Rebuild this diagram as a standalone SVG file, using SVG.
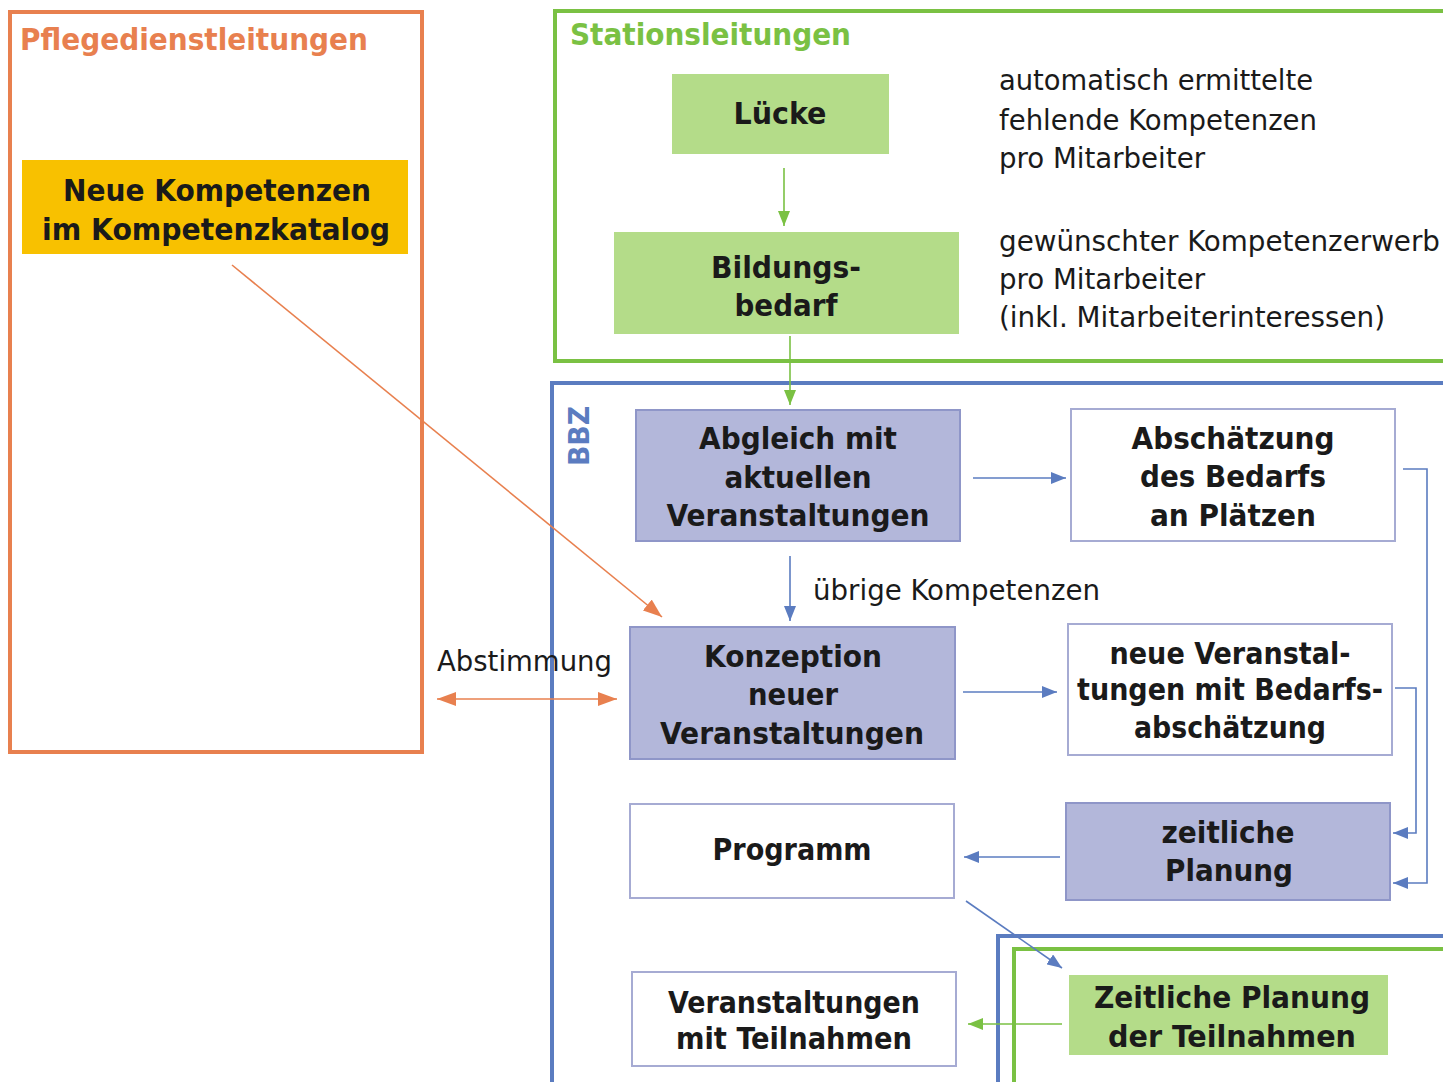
<svg xmlns="http://www.w3.org/2000/svg" width="1443" height="1082" viewBox="0 0 1443 1082">
<style>
text{font-family:"DejaVu Sans Condensed","DejaVu Sans",sans-serif;fill:#1a1a1a}
.b{font-weight:bold;font-size:31px;text-anchor:middle}
.n{font-size:28px}
.t{font-weight:bold;font-size:30px}
.green{fill:#b4dc89}
.lav{fill:#b3b7da;stroke:#8f96c8;stroke-width:2}
.wht{fill:#fff;stroke:#a6abd3;stroke-width:2}
.c{fill:none;stroke-width:1.6}
</style>
<defs>
<marker id="ag" markerUnits="userSpaceOnUse" markerWidth="16" markerHeight="12" refX="15" refY="6" orient="auto-start-reverse"><path d="M0,0 L15,6 L0,12 z" fill="#7ac143"/></marker>
<marker id="ab" markerUnits="userSpaceOnUse" markerWidth="16" markerHeight="12" refX="15" refY="6" orient="auto-start-reverse"><path d="M0,0 L15,6 L0,12 z" fill="#5b7cc0"/></marker>
<marker id="ao" markerUnits="userSpaceOnUse" markerWidth="20" markerHeight="14" refX="19" refY="7" orient="auto-start-reverse"><path d="M0,0 L19,7 L0,14 z" fill="#e8804f"/></marker>
</defs>
<rect width="1443" height="1082" fill="#fff"/>

<g id="pflegedienstleitungen">
<rect x="10" y="12" width="412" height="740" fill="none" stroke="#e8804f" stroke-width="4"/>
<text class="t" x="20" y="50" style="fill:#e8804f" textLength="348" lengthAdjust="spacingAndGlyphs">Pflegedienstleitungen</text>
</g>
<g id="stationsleitungen">
<rect x="555" y="11" width="900" height="350" fill="none" stroke="#7ac143" stroke-width="4"/>
<text class="t" x="570" y="45" style="fill:#7ac143" textLength="281" lengthAdjust="spacingAndGlyphs">Stationsleitungen</text>
</g>
<g id="bbz">
<rect x="552" y="383" width="900" height="710" fill="none" stroke="#5b7cc0" stroke-width="4"/>
<text class="t" transform="translate(589,466) rotate(-90)" style="fill:#5b7cc0;font-size:28px" textLength="60" lengthAdjust="spacingAndGlyphs">BBZ</text>
</g>
<g id="teilnahmen-frame">
<rect x="998" y="936" width="460" height="160" fill="none" stroke="#5b7cc0" stroke-width="4"/>
<rect x="1014" y="949" width="440" height="145" fill="none" stroke="#7ac143" stroke-width="4"/>
</g>

<g id="neue-kompetenzen">
<rect x="22" y="160" width="386" height="94" fill="#f8c100"/>
<text class="b" x="217" y="201" textLength="308" lengthAdjust="spacingAndGlyphs">Neue Kompetenzen</text>
<text class="b" x="216" y="240" textLength="348" lengthAdjust="spacingAndGlyphs">im Kompetenzkatalog</text>
</g>
<g id="luecke">
<rect class="green" x="672" y="74" width="217" height="80"/>
<text class="b" x="780" y="124" textLength="93" lengthAdjust="spacingAndGlyphs">Lücke</text>
</g>
<g id="bildungsbedarf">
<rect class="green" x="614" y="232" width="345" height="102"/>
<text class="b" x="786" y="278" textLength="150" lengthAdjust="spacingAndGlyphs">Bildungs-</text>
<text class="b" x="786" y="316" textLength="103" lengthAdjust="spacingAndGlyphs">bedarf</text>
</g>
<g id="note-luecke">
<text class="n" x="999" y="90" textLength="314" lengthAdjust="spacingAndGlyphs">automatisch ermittelte</text>
<text class="n" x="999" y="130" textLength="318" lengthAdjust="spacingAndGlyphs">fehlende Kompetenzen</text>
<text class="n" x="999" y="168" textLength="206" lengthAdjust="spacingAndGlyphs">pro Mitarbeiter</text>
</g>
<g id="note-bildungsbedarf">
<text class="n" x="999" y="251" textLength="441" lengthAdjust="spacingAndGlyphs">gewünschter Kompetenzerwerb</text>
<text class="n" x="999" y="289" textLength="206" lengthAdjust="spacingAndGlyphs">pro Mitarbeiter</text>
<text class="n" x="999" y="327" textLength="386" lengthAdjust="spacingAndGlyphs">(inkl. Mitarbeiterinteressen)</text>
</g>
<g id="abgleich">
<rect class="lav" x="636" y="410" width="324" height="131"/>
<text class="b" x="798" y="449" textLength="198" lengthAdjust="spacingAndGlyphs">Abgleich mit</text>
<text class="b" x="798" y="488" textLength="147" lengthAdjust="spacingAndGlyphs">aktuellen</text>
<text class="b" x="798" y="526" textLength="263" lengthAdjust="spacingAndGlyphs">Veranstaltungen</text>
</g>
<g id="abschaetzung">
<rect class="wht" x="1071" y="409" width="324" height="132"/>
<text class="b" x="1233" y="449" textLength="203" lengthAdjust="spacingAndGlyphs">Abschätzung</text>
<text class="b" x="1233" y="487" textLength="186" lengthAdjust="spacingAndGlyphs">des Bedarfs</text>
<text class="b" x="1233" y="526" textLength="166" lengthAdjust="spacingAndGlyphs">an Plätzen</text>
</g>
<g id="konzeption">
<rect class="lav" x="630" y="627" width="325" height="132"/>
<text class="b" x="793" y="667" textLength="178" lengthAdjust="spacingAndGlyphs">Konzeption</text>
<text class="b" x="793" y="705" textLength="90" lengthAdjust="spacingAndGlyphs">neuer</text>
<text class="b" x="792" y="744" textLength="264" lengthAdjust="spacingAndGlyphs">Veranstaltungen</text>
</g>
<g id="neue-veranstaltungen">
<rect class="wht" x="1068" y="624" width="324" height="131"/>
<text class="b" x="1230" y="664" textLength="241" lengthAdjust="spacingAndGlyphs">neue Veranstal-</text>
<text class="b" x="1230" y="700" textLength="306" lengthAdjust="spacingAndGlyphs">tungen mit Bedarfs-</text>
<text class="b" x="1230" y="738" textLength="192" lengthAdjust="spacingAndGlyphs">abschätzung</text>
</g>
<g id="programm">
<rect class="wht" x="630" y="804" width="324" height="94"/>
<text class="b" x="792" y="860" textLength="159" lengthAdjust="spacingAndGlyphs">Programm</text>
</g>
<g id="zeitliche-planung">
<rect class="lav" x="1066" y="803" width="324" height="97"/>
<text class="b" x="1228" y="843" textLength="133" lengthAdjust="spacingAndGlyphs">zeitliche</text>
<text class="b" x="1229" y="881" textLength="128" lengthAdjust="spacingAndGlyphs">Planung</text>
</g>
<g id="zeitliche-planung-teilnahmen">
<rect class="green" x="1069" y="975" width="319" height="80"/>
<text class="b" x="1232" y="1008" textLength="276" lengthAdjust="spacingAndGlyphs">Zeitliche Planung</text>
<text class="b" x="1232" y="1047" textLength="248" lengthAdjust="spacingAndGlyphs">der Teilnahmen</text>
</g>
<g id="veranstaltungen-teilnahmen">
<rect class="wht" x="632" y="972" width="324" height="94"/>
<text class="b" x="794" y="1013" textLength="252" lengthAdjust="spacingAndGlyphs">Veranstaltungen</text>
<text class="b" x="794" y="1049" textLength="236" lengthAdjust="spacingAndGlyphs">mit Teilnahmen</text>
</g>

<g id="connectors">
<line class="c" x1="784" y1="168" x2="784" y2="226" stroke="#7ac143" marker-end="url(#ag)"/>
<line class="c" x1="790" y1="336" x2="790" y2="405" stroke="#7ac143" marker-end="url(#ag)"/>
<line class="c" x1="973" y1="478" x2="1066" y2="478" stroke="#5b7cc0" marker-end="url(#ab)"/>
<line class="c" x1="790" y1="556" x2="790" y2="621" stroke="#5b7cc0" marker-end="url(#ab)"/>
<line class="c" x1="963" y1="692" x2="1057" y2="692" stroke="#5b7cc0" marker-end="url(#ab)"/>
<polyline class="c" points="1403,469 1427,469 1427,883 1393,883" stroke="#5b7cc0" marker-end="url(#ab)"/>
<polyline class="c" points="1395,688 1416,688 1416,833 1393,833" stroke="#5b7cc0" marker-end="url(#ab)"/>
<line class="c" x1="1060" y1="857" x2="964" y2="857" stroke="#5b7cc0" marker-end="url(#ab)"/>
<line class="c" x1="966" y1="901" x2="1062" y2="968" stroke="#5b7cc0" marker-end="url(#ab)"/>
<line class="c" x1="1062" y1="1024" x2="968" y2="1024" stroke="#7ac143" marker-end="url(#ag)"/>
<line class="c" x1="232" y1="265" x2="662" y2="617" stroke="#e8804f" stroke-width="1.3" marker-end="url(#ao)"/>
<line class="c" x1="437" y1="699" x2="617" y2="699" stroke="#e8804f" marker-start="url(#ao)" marker-end="url(#ao)"/>
<text class="n" x="813" y="600" textLength="287" lengthAdjust="spacingAndGlyphs">übrige Kompetenzen</text>
<text class="n" x="437" y="671" textLength="175" lengthAdjust="spacingAndGlyphs">Abstimmung</text>
</g>
</svg>
